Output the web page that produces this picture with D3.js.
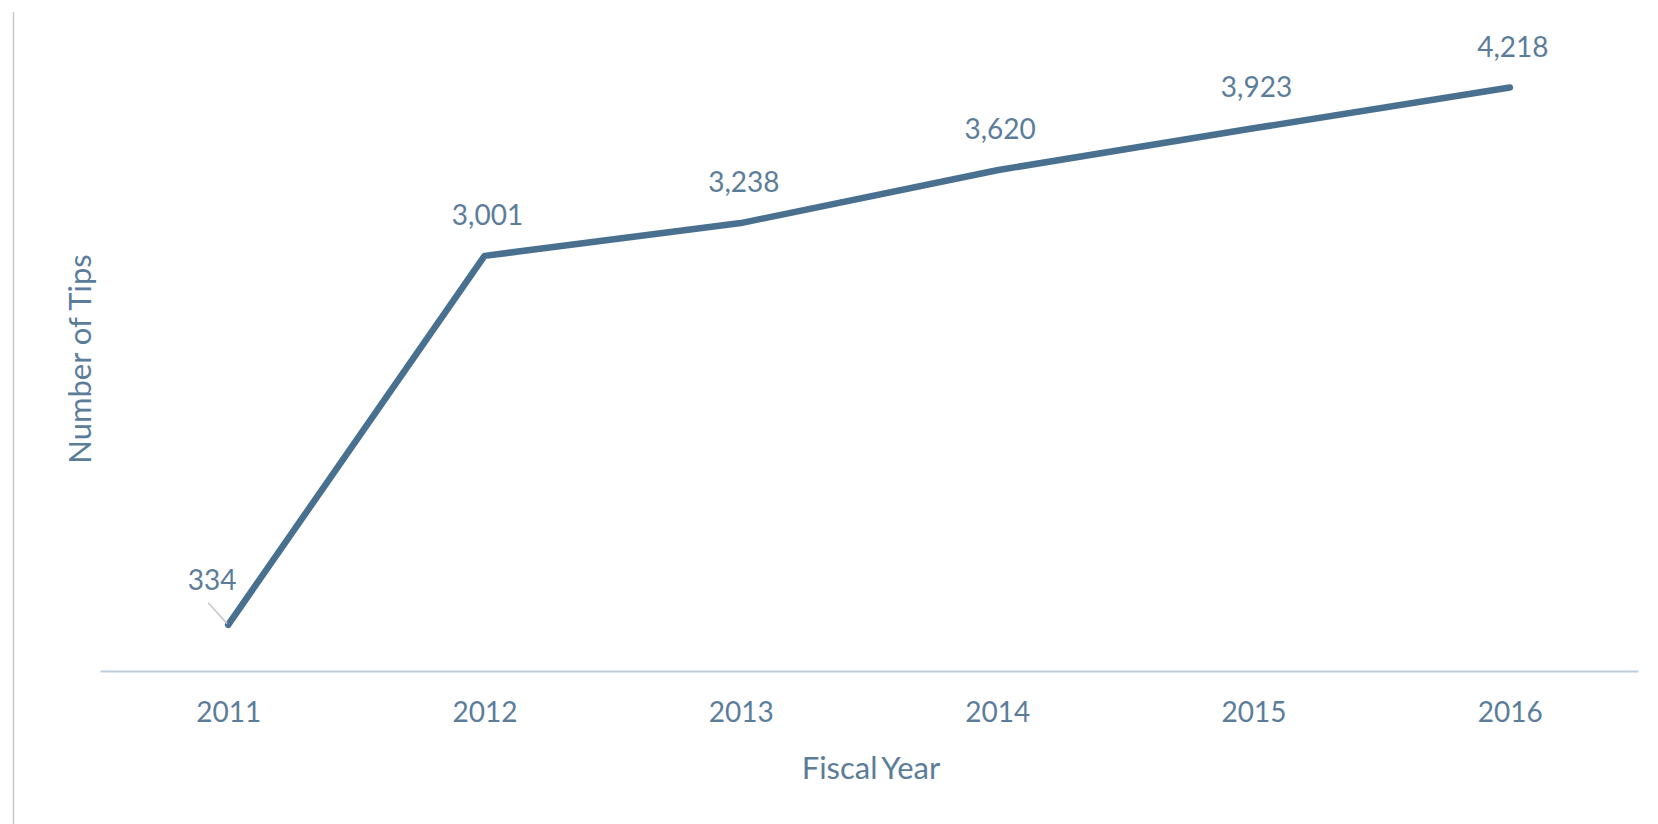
<!DOCTYPE html>
<html>
<head>
<meta charset="utf-8">
<script src="https://cdn.jsdelivr.net/npm/d3@7/dist/d3.min.js"></script>
<style>
  html, body { margin: 0; padding: 0; background: #ffffff; }
  svg { display: block; }
  text { font-family: "Source Sans Pro", Lato, "Open Sans", sans-serif; fill: #5b7d9a; }
</style>
</head>
<body>
<svg id="chart" width="1658" height="824"></svg>
<script>
// Tips received per fiscal year
const years = ["2011", "2012", "2013", "2014", "2015", "2016"];
const tips = [334, 3001, 3238, 3620, 3923, 4218];
const xTitle = "Fiscal Year";
const yTitle = "Number of Tips";

const W = 1658, H = 824;
const svg = d3.select("#chart");

const x = d3.scalePoint().domain(years).range([100, 1638]).padding(0.5);
const y = d3.scaleLinear().domain([0, 4500]).range([671, 48.5]);

const fmt = d3.format(",");

// thin frame on the left edge
svg.append("line")
  .attr("x1", 13.5).attr("x2", 13.5)
  .attr("y1", 12).attr("y2", H)
  .attr("stroke", "#c9c9c9").attr("stroke-width", 1.5);

// x axis: baseline plus year labels
const xAxis = d3.axisBottom(x).tickSize(0).tickPadding(40);
const gx = svg.append("g").attr("transform", `translate(0,${y(0)})`).call(xAxis);
gx.select(".domain").attr("stroke", "#b9cddd").attr("stroke-width", 2);
gx.selectAll(".tick text")
  .style("font-size", "28px")
  .style("fill", "#5b7d9a")
  .attr("dy", "0.4em");

// axis titles
svg.append("text")
  .attr("x", 871).attr("y", 779)
  .attr("text-anchor", "middle")
  .style("font-size", "31px")
  .style("word-spacing", "-3px")
  .text(xTitle);

svg.append("text")
  .attr("transform", "translate(91,359) rotate(-90)")
  .attr("text-anchor", "middle")
  .style("font-size", "31px")
  .text(yTitle);

const pts = years.map((yr, i) => ({ yr, v: tips[i] }));

// trend line
const line = d3.line().x(d => x(d.yr)).y(d => y(d.v));
svg.append("path")
  .datum(pts)
  .attr("d", line)
  .attr("fill", "none")
  .attr("stroke", "#4a7090")
  .attr("stroke-width", 6.5)
  .attr("stroke-linejoin", "round")
  .attr("stroke-linecap", "round");

// value labels; the first one sits off to the left with a leader line
pts.forEach((d, i) => {
  const px = x(d.yr), py = y(d.v);
  if (i === 0) {
    svg.append("line")
      .attr("x1", px - 20).attr("y1", py - 22)
      .attr("x2", px - 1).attr("y2", py - 1)
      .attr("stroke", "#c4c4c4").attr("stroke-width", 1.5);
    svg.append("text")
      .attr("x", px - 16).attr("y", py - 35)
      .attr("text-anchor", "middle")
      .style("font-size", "28px")
      .text(fmt(d.v));
  } else {
    svg.append("text")
      .attr("x", px + 3).attr("y", py - 31)
      .attr("text-anchor", "middle")
      .style("font-size", "28px")
      .text(fmt(d.v));
  }
});
</script>
</body>
</html>
